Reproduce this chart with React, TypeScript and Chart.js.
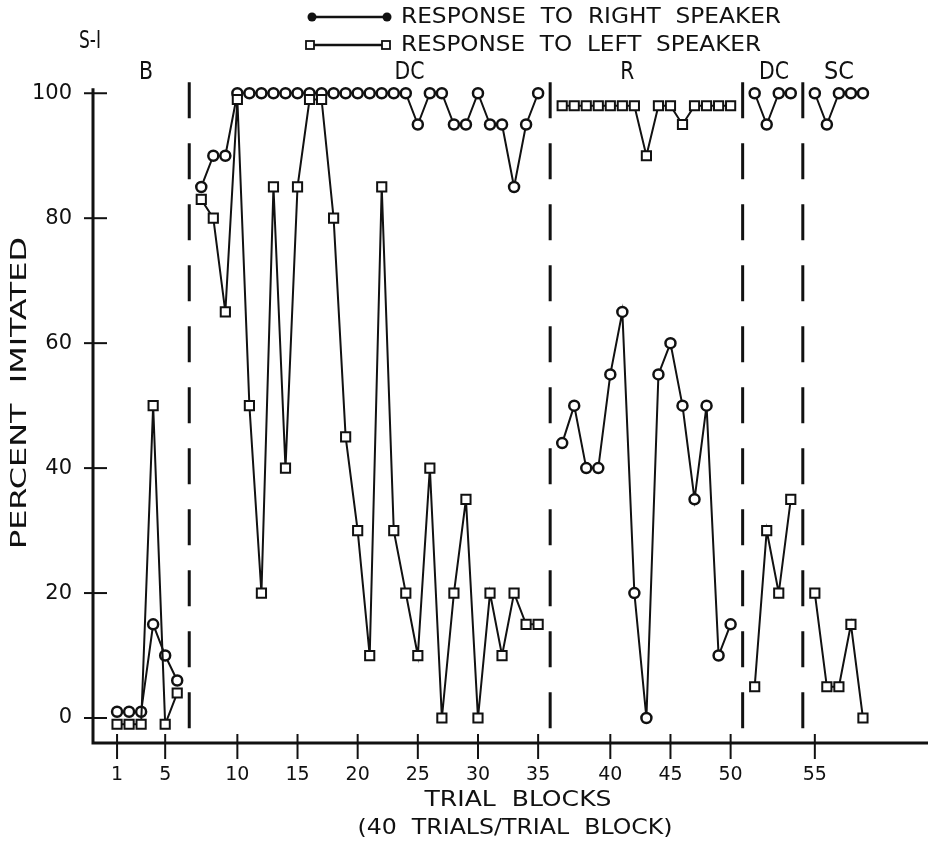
import React, { useEffect, useRef } from "react";
import { Chart, registerables } from "chart.js";

Chart.register(...registerables);

// ---- data ----
const phaseNames = ["B", "DC", "R", "DC", "SC"];
const phaseStarts = [1, 7, 36, 51, 55];
const phaseEnds = [6, 35, 50, 54, 59];
const phaseLabelBlocks = [3.4, 24.3, 41.4, 52.6, 57];

// percent imitated, trial blocks 1..59
const rightSpeaker = [
  1, 1, 1, 15, 10, 6,
  85, 90, 90, 100, 100, 100, 100, 100, 100, 100, 100, 100, 100, 100, 100, 100, 100, 100,
  95, 100, 100, 95, 95, 100, 95, 95, 85, 95, 100,
  44, 50, 40, 40, 55, 65, 20, 0, 55, 60, 50, 35, 50, 10, 15,
  100, 95, 100, 100,
  100, 95, 100, 100, 100,
];
const leftSpeaker = [
  -1, -1, -1, 50, -1, 4,
  83, 80, 65, 99, 50, 20, 85, 40, 85, 99, 99, 80, 45, 30, 10, 85, 30, 20, 10,
  40, 0, 20, 35, 0, 20, 10, 20, 15, 15,
  98, 98, 98, 98, 98, 98, 98, 90, 98, 98, 95, 98, 98, 98, 98,
  5, 30, 20, 35,
  20, 5, 5, 15, 0,
];
const xTickBlocks = [1, 5, 10, 15, 20, 25, 30, 35, 40, 45, 50, 55];
const yTickValues = [0, 20, 40, 60, 80, 100];

const LETTER = "'Liberation Sans Narrow','DejaVu Sans Condensed','DejaVu Sans',sans-serif";
const DIGIT = "'DejaVu Sans',sans-serif";

function phaseIndexOf(block: number) {
  for (let i = 0; i < phaseStarts.length; i++) {
    if (block >= phaseStarts[i] && block <= phaseEnds[i] + 0.99) return i;
  }
  return phaseStarts.length - 1;
}
const posOf = (block: number) => block + phaseIndexOf(block);

function series(values: number[]) {
  const pts: { x: number; y: number | null }[] = [];
  phaseStarts.forEach((start, i) => {
    if (i > 0) pts.push({ x: start + i - 0.5, y: null });
    for (let b = start; b <= phaseEnds[i]; b++) pts.push({ x: b + i, y: values[b - 1] });
  });
  return pts;
}

function fitText(ctx: CanvasRenderingContext2D, text: string, cx: number, cy: number, width: number, font: string) {
  ctx.save();
  ctx.font = font;
  ctx.textAlign = "center";
  ctx.textBaseline = "middle";
  const w = ctx.measureText(text).width;
  ctx.translate(cx, cy);
  ctx.scale(width / w, 1);
  ctx.fillText(text, 0, 0);
  ctx.restore();
}

const decorPlugin = {
  id: "decor",
  afterDraw(chart: any) {
    const { ctx, scales } = chart;
    const x = scales.x;
    const y = scales.y;
    const axisX = x.left;
    const axisY = y.bottom;
    ctx.save();
    ctx.fillStyle = "#111";
    ctx.strokeStyle = "#111";

    // axes
    ctx.lineWidth = 3;
    ctx.beginPath();
    ctx.moveTo(axisX, y.getPixelForValue(100) - 5);
    ctx.lineTo(axisX, axisY + 1.5);
    ctx.moveTo(axisX - 1.5, axisY);
    ctx.lineTo(chart.width, axisY);
    ctx.stroke();

    // phase dashed lines
    ctx.setLineDash([36, 25]);
    for (let i = 1; i < phaseStarts.length; i++) {
      const p = phaseEnds[i - 1] + i;
      const px = x.getPixelForValue(p);
      ctx.beginPath();
      ctx.moveTo(px, y.getPixelForValue(100) - 11);
      ctx.lineTo(px, axisY);
      ctx.stroke();
    }
    ctx.setLineDash([]);

    // tick marks
    ctx.lineWidth = 2;
    yTickValues.forEach((v) => {
      const py = y.getPixelForValue(v);
      ctx.beginPath();
      ctx.moveTo(axisX - 9, py);
      ctx.lineTo(axisX + 14, py);
      ctx.stroke();
    });
    xTickBlocks.forEach((b) => {
      const px = x.getPixelForValue(posOf(b));
      ctx.beginPath();
      ctx.moveTo(px, axisY - 9);
      ctx.lineTo(px, axisY + 16);
      ctx.stroke();
    });

    // phase labels
    phaseNames.forEach((n, i) => {
      const px = x.getPixelForValue(posOf(phaseLabelBlocks[i]));
      fitText(ctx, n, px, 73, n.length === 1 ? 14 : 30, `24px ${LETTER}`);
    });

    // title
    fitText(ctx, "S-I", 90, 42, 22, `24px ${LETTER}`);

    // legend
    ctx.lineWidth = 2.5;
    ctx.beginPath();
    ctx.moveTo(312, 17);
    ctx.lineTo(387, 17);
    ctx.stroke();
    [312, 387].forEach((cx) => {
      ctx.beginPath();
      ctx.arc(cx, 17, 4.5, 0, Math.PI * 2);
      ctx.fill();
    });
    ctx.beginPath();
    ctx.moveTo(312, 45);
    ctx.lineTo(387, 45);
    ctx.stroke();
    ctx.fillStyle = "#fff";
    ctx.lineWidth = 1.8;
    [310, 386].forEach((cx) => {
      ctx.fillRect(cx - 4, 41, 8, 8);
      ctx.strokeRect(cx - 4, 41, 8, 8);
    });
    ctx.fillStyle = "#111";
    fitText(ctx, "RESPONSE  TO  RIGHT  SPEAKER", 591, 17, 380, `22px ${LETTER}`);
    fitText(ctx, "RESPONSE  TO  LEFT  SPEAKER", 581, 45, 360, `22px ${LETTER}`);

    // axis titles
    fitText(ctx, "TRIAL  BLOCKS", 518, 800, 187, `22px ${LETTER}`);
    fitText(ctx, "(40  TRIALS/TRIAL  BLOCK)", 515, 828, 315, `22px ${LETTER}`);
    ctx.save();
    ctx.translate(20, 393);
    ctx.rotate(-Math.PI / 2);
    fitText(ctx, "PERCENT  IMITATED", 0, 0, 312, `22px ${LETTER}`);
    ctx.restore();

    ctx.restore();
  },
};

export default function App() {
  const ref = useRef<HTMLCanvasElement | null>(null);
  useEffect(() => {
    if (!ref.current) return;
    const chart = new Chart(ref.current, {
      type: "line",
      data: {
        datasets: [
          {
            label: "RESPONSE TO LEFT SPEAKER",
            data: series(leftSpeaker) as any,
            borderColor: "#111",
            borderWidth: 2,
            pointStyle: "rect",
            pointRadius: 6.5,
            pointBorderWidth: 2,
            pointBackgroundColor: "#fff",
            pointBorderColor: "#111",
            spanGaps: false,
            clip: false as any,
          },
          {
            label: "RESPONSE TO RIGHT SPEAKER",
            data: series(rightSpeaker) as any,
            borderColor: "#111",
            borderWidth: 2,
            pointStyle: "circle",
            pointRadius: 5,
            pointBorderWidth: 2.5,
            pointBackgroundColor: "#fff",
            pointBorderColor: "#111",
            spanGaps: false,
            clip: false as any,
          },
        ],
      },
      options: {
        animation: false,
        responsive: false,
        maintainAspectRatio: false,
        layout: { padding: { top: 87, left: 0, right: 0, bottom: 0 } },
        plugins: { legend: { display: false }, tooltip: { enabled: false } },
        scales: {
          x: {
            type: "linear",
            min: -1,
            max: 67.7,
            grid: { display: false },
            border: { display: false },
            afterFit: (s: any) => {
              s.height = 99;
              s.paddingLeft = 0;
              s.paddingRight = 0;
            },
            afterBuildTicks: (s: any) => {
              s.ticks = xTickBlocks.map((b) => ({ value: posOf(b) }));
            },
            ticks: {
              autoSkip: false,
              maxRotation: 0,
              padding: 13,
              color: "#111",
              font: { family: DIGIT, size: 19 },
              callback: (v: any) => {
                const i = xTickBlocks.findIndex((b) => posOf(b) === v);
                return i >= 0 ? String(xTickBlocks[i]) : "";
              },
            },
          },
          y: {
            type: "linear",
            min: -4,
            max: 101,
            grid: { display: false },
            border: { display: false },
            afterFit: (s: any) => {
              s.width = 93;
            },
            afterBuildTicks: (s: any) => {
              s.ticks = yTickValues.map((v) => ({ value: v }));
            },
            ticks: {
              padding: 13,
              color: "#111",
              font: { family: DIGIT, size: 21 },
            },
          },
        },
      },
      plugins: [decorPlugin],
    });
    return () => chart.destroy();
  }, []);
  return (
    <div style={{ position: "absolute", left: 0, top: 0, width: 928, height: 842, background: "#fff" }}>
      <canvas ref={ref} width={928} height={842} style={{ width: 928, height: 842, display: "block" }} />
    </div>
  );
}
